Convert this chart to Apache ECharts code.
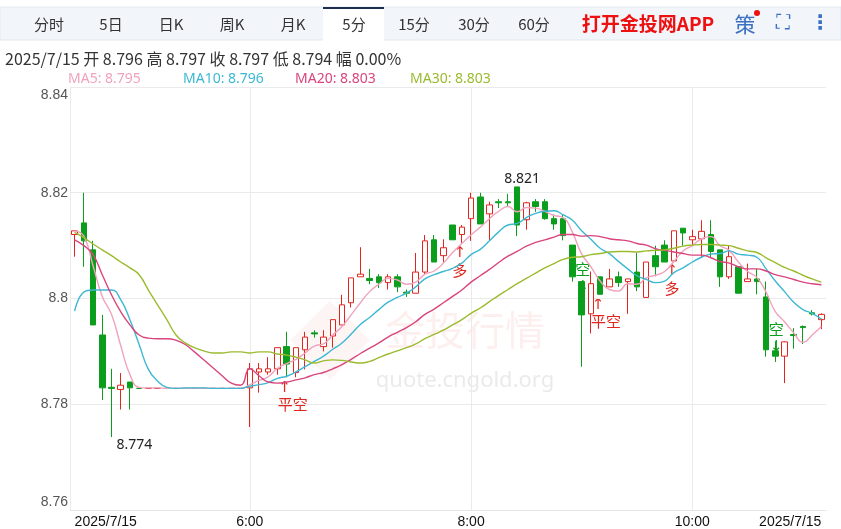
<!DOCTYPE html>
<html><head><meta charset="utf-8">
<script src="https://cdn.jsdelivr.net/npm/echarts@6/dist/echarts.min.js"></script>
<style>html,body{margin:0;padding:0;background:#fff}#c{width:841px;height:529px}</style>
</head><body><div id="c"></div>
<script>
const opens  = [8.8121,8.8143,8.8092,8.7931,8.7832,8.7828,8.7842,8.7830,8.7830,8.7830,8.7830,8.7830,8.7830,8.7830,8.7830,8.7830,8.7830,8.7830,8.7830,8.7831,8.7861,8.7861,8.7867,8.7909,8.7860,8.7903,8.7935,8.7909,8.7929,8.7950,8.7992,8.8041,8.8038,8.8041,8.8030,8.8041,8.8012,8.8010,8.8050,8.8111,8.8081,8.8139,8.8121,8.8151,8.8192,8.8160,8.8183,8.8183,8.8211,8.8149,8.8183,8.8183,8.8151,8.8151,8.8101,8.8032,8.7971,8.8041,8.8022,8.8041,8.8032,8.8050,8.8002,8.8081,8.8101,8.8071,8.8133,8.8111,8.8113,8.8121,8.8092,8.8041,8.8060,8.8032,8.8037,8.8003,8.7901,8.7891,8.7932,8.7947,8.7973,8.7960];
const closes = [8.8128,8.8109,8.7950,8.7831,8.7830,8.7836,8.7831,8.7830,8.7830,8.7830,8.7830,8.7830,8.7830,8.7830,8.7830,8.7830,8.7830,8.7830,8.7830,8.7867,8.7867,8.7867,8.7907,8.7876,8.7907,8.7927,8.7933,8.7927,8.7960,8.7988,8.8039,8.8046,8.8034,8.8030,8.8041,8.8022,8.8010,8.8050,8.8109,8.8069,8.8096,8.8111,8.8135,8.8190,8.8141,8.8177,8.8181,8.8181,8.8139,8.8181,8.8174,8.8151,8.8141,8.8119,8.8041,8.7969,8.8028,8.8008,8.8037,8.8030,8.8037,8.8022,8.8069,8.8060,8.8069,8.8128,8.8124,8.8117,8.8127,8.8089,8.8041,8.8079,8.8010,8.8037,8.8032,8.7903,8.7891,8.7918,8.7930,8.7945,8.7971,8.7970];
const lows   = [8.8079,8.8060,8.7950,8.7808,8.7738,8.7790,8.7790,8.7830,8.7830,8.7830,8.7830,8.7830,8.7830,8.7830,8.7830,8.7830,8.7830,8.7830,8.7830,8.7757,8.7822,8.7856,8.7856,8.7851,8.7851,8.7866,8.7926,8.7900,8.7907,8.7950,8.7983,8.8041,8.8027,8.8020,8.8017,8.8012,8.8003,8.8010,8.8046,8.8069,8.8069,8.8111,8.8105,8.8109,8.8141,8.8109,8.8171,8.8174,8.8118,8.8130,8.8164,8.8149,8.8130,8.8110,8.8032,8.7871,8.7934,8.8008,8.8022,8.8022,8.7971,8.8014,8.8002,8.8042,8.8069,8.8071,8.8100,8.8100,8.8077,8.8077,8.8022,8.8037,8.8010,8.8032,8.8008,8.7890,8.7880,8.7840,8.7905,8.7914,8.7968,8.7942];
const highs  = [8.8128,8.8200,8.8109,8.7969,8.7867,8.7859,8.7842,8.7830,8.7830,8.7830,8.7830,8.7830,8.7830,8.7830,8.7830,8.7830,8.7830,8.7830,8.7830,8.7878,8.7878,8.7889,8.7907,8.7937,8.7907,8.7937,8.7940,8.7940,8.7960,8.8007,8.8039,8.8097,8.8056,8.8046,8.8046,8.8046,8.8017,8.8086,8.8120,8.8120,8.8112,8.8139,8.8139,8.8200,8.8200,8.8183,8.8188,8.8198,8.8211,8.8183,8.8188,8.8188,8.8159,8.8159,8.8101,8.8032,8.8051,8.8041,8.8056,8.8051,8.8037,8.8086,8.8069,8.8100,8.8110,8.8128,8.8133,8.8130,8.8148,8.8148,8.8092,8.8100,8.8060,8.8066,8.8056,8.8032,8.7919,8.7919,8.7944,8.7949,8.7978,8.7972];
// MA values for bars whose window reaches before the first visible bar
const ma10Head = [8.7976,8.8012,8.8016,8.8016,8.8016,8.7998,8.7960,8.7913,8.7866,8.7844,8.7832,8.7830];
const ma20Head = [8.8111,8.8100,8.8083,8.8045,8.8007,8.7975,8.7950,8.7931,8.7925,8.7924,8.7924,8.7921,8.7913,8.7899,8.7884,8.7869,8.7854,8.7840,8.7836];
const ma30Head = [8.8125,8.8115,8.8103,8.8092,8.8081,8.8069,8.8058,8.8045,8.8016,8.7988,8.7960,8.7931,8.7916,8.7907,8.7901,8.7897,8.7897,8.7899,8.7899,8.7897,8.7899,8.7899,8.7895,8.7893,8.7889,8.7884,8.7878,8.7882,8.7884];
const yTicks = [8.76, 8.78, 8.80, 8.82, 8.84];
const tabs = ['分时','5日','日K','周K','月K','5分','15分','30分','60分'];
const signals = [[23,'平空','up'],[42,'多','up'],[55,'空','down'],[57,'平空','up'],[65,'多','up'],[76,'空','down']];

const cats = opens.map((_, i) => { const m = 25 + 5*i + 4*60; const h = Math.floor(m/60), mm = m%60; return h + ':' + (mm<10?'0':'') + mm; });
const kdata = opens.map((o, i) => [o, closes[i], lows[i], highs[i]]);
function ma(n, head){ return closes.map((_, i) => { if (head && i < head.length) return head[i]; const s = Math.max(0, i-n+1); let t=0; for(let j=s;j<=i;j++) t+=closes[j]; return +(t/(i-s+1)).toFixed(4); }); }
const MA = {5:ma(5),10:ma(10,ma10Head),20:ma(20,ma20Head),30:ma(30,ma30Head)};
const maColors = {5:'#f0a3bd',10:'#3db8d3',20:'#d9457d',30:'#9bbb2e'};
const last = closes.length-1;
const gridIdx = [19,43,67];

const chart = echarts.init(document.getElementById('c'));
const g = [];
g.push({type:'rect',shape:{x:0,y:7,width:841,height:33},style:{fill:'#f2f5fa',stroke:'#e3e8f0'},silent:true});
g.push({type:'rect',shape:{x:323,y:7,width:61,height:34},style:{fill:'#fff'}});
g.push({type:'rect',shape:{x:323,y:7,width:61,height:2},style:{fill:'#1d2d50'}});
const tabX=[49,111,171,232,293,354,414,474,534];
tabs.forEach((t,i)=>g.push({type:'text',x:tabX[i],y:24,style:{text:t,font:'15px "Noto Sans CJK SC"',fill:'#333',align:'center',verticalAlign:'middle'}}));
g.push({type:'text',x:648,y:24,style:{text:'打开金投网APP',font:'bold 19px "Noto Sans CJK SC"',fill:'#ee1111',align:'center',verticalAlign:'middle'}});
g.push({type:'text',x:745,y:24,style:{text:'策',font:'21px "Noto Sans CJK SC"',fill:'#3a6fc4',align:'center',verticalAlign:'middle'}});
g.push({type:'circle',shape:{cx:757,cy:13,r:3},style:{fill:'#ee1111'}});
g.push({type:'text',x:783,y:24,style:{text:'⛶',font:'20px DejaVu Sans',fill:'#3a6fc4',align:'center',verticalAlign:'middle'}});
g.push({type:'text',x:820,y:24,style:{text:'⋮',font:'bold 20px DejaVu Sans',fill:'#3a6fc4',align:'center',verticalAlign:'middle'}});
g.push({type:'text',x:5,y:59,style:{text:'2025/7/15 开 '+opens[last].toFixed(3)+' 高 '+highs[last].toFixed(3)+' 收 '+closes[last].toFixed(3)+' 低 '+lows[last].toFixed(3)+' 幅 0.00%',font:'16px "Noto Sans CJK SC"',fill:'#333',verticalAlign:'middle'}});
[[5,68],[10,183],[20,295],[30,410]].forEach(([n,x])=>g.push({type:'text',x:x,y:79,style:{text:'MA'+n+': '+MA[n][last].toFixed(3),font:'14px "Noto Sans"',fill:maColors[n],verticalAlign:'middle'}}));
g.push({type:'text',x:465,y:330,style:{text:'金投行情',font:'40px "Noto Sans CJK SC"',fill:'rgba(230,120,110,0.12)',align:'center',verticalAlign:'middle'}});
g.push({type:'text',x:465,y:381,style:{text:'quote.cngold.org',font:'22px "Noto Sans"',fill:'rgba(160,160,160,0.22)',align:'center',verticalAlign:'middle'}});
g.push({type:'rect',x:330,y:340,rotation:Math.PI/4,shape:{x:-28,y:-28,width:56,height:56},style:{fill:'rgba(230,120,110,0.08)'}});

const series = [{type:'candlestick',data:kdata,barWidth:6,itemStyle:{color:'#ffffff',color0:'#0b9e1c',borderColor:'#e0261f',borderColor0:'#0b9e1c',borderWidth:1},
  markLine:{silent:true,symbol:'none',label:{show:false},lineStyle:{color:'#eaeaea',type:'solid',width:1},z:0,
    data:gridIdx.map(i=>({xAxis:cats[i]}))}}];
[5,10,20,30].forEach(n=>series.push({type:'line',data:MA[n],symbol:'none',smooth:true,lineStyle:{width:1.4,color:maColors[n]},z:3}));

chart.setOption({
  animation:false,
  grid:{left:70,right:15,top:87,bottom:19},
  xAxis:{type:'category',data:cats,boundaryGap:true,
    axisLine:{show:true,lineStyle:{color:'#e6e6e6'}},axisTick:{show:false},
    axisLabel:{color:'#111',fontSize:14,margin:5,
      interval:(i)=>i===0||i===last||gridIdx.includes(i),
      formatter:(v,i)=>(i===0||i===last)?'2025/7/15':v, alignMinLabel:'left',alignMaxLabel:'right'},
    splitLine:{show:false}},
  yAxis:{type:'value',min:yTicks[0],max:yTicks[yTicks.length-1],interval:0.02,
    axisLine:{show:true,lineStyle:{color:'#eaeaea'}},axisTick:{show:false},
    axisLabel:{color:'#555',fontSize:14,margin:2,
      formatter:v=>{const s=(+v.toFixed(2)).toString(); if(Math.abs(v-yTicks[0])<1e-9) return '{b|'+s+'}'; if(Math.abs(v-yTicks[yTicks.length-1])<1e-9) return '{t|'+s+'}'; return s;},
      rich:{b:{fontSize:14,color:'#555',padding:[0,0,16,0]},t:{fontSize:14,color:'#555',padding:[16,0,0,0]}}},
    splitLine:{lineStyle:{color:'#eaeaea'}}},
  series:series,
  graphic:g
});
const extra=[];
let hi=0,lo=0; highs.forEach((h,i)=>{if(h>highs[hi])hi=i;}); lows.forEach((l,i)=>{if(l<lows[lo])lo=i;});
const ph=chart.convertToPixel({gridIndex:0},[hi,highs[hi]]);
extra.push({type:'text',x:ph[0]+5,y:ph[1]-8,style:{text:highs[hi].toFixed(3),font:'14px "Noto Sans"',fill:'#222',align:'center',verticalAlign:'middle'}});
const pl=chart.convertToPixel({gridIndex:0},[lo,lows[lo]]);
extra.push({type:'text',x:pl[0]+23,y:pl[1]+8,style:{text:lows[lo].toFixed(3),font:'14px "Noto Sans"',fill:'#222',align:'center',verticalAlign:'middle'}});
signals.forEach(([i,t,d])=>{
  if(d==='up'){
    const p=chart.convertToPixel({gridIndex:0},[i,lows[i]]);
    extra.push({type:'text',x:p[0]-2,y:p[1]+3,style:{text:'↑',font:'15px "DejaVu Sans"',fill:'#e0261f',align:'center',verticalAlign:'top'}});
    extra.push({type:'text',x:p[0]+(t.length>1?6:-2),y:p[1]+20,style:{text:t,font:'15px "Noto Sans CJK SC"',fill:'#e0261f',align:'center',verticalAlign:'top'}});
  } else {
    const p=chart.convertToPixel({gridIndex:0},[i,highs[i]]);
    extra.push({type:'text',x:p[0]+1,y:p[1]-12,style:{text:t,font:'15px "Noto Sans CJK SC"',fill:'#0b9e1c',align:'center',verticalAlign:'middle'}});
    extra.push({type:'text',x:p[0]+1,y:p[1]+6,style:{text:'↓',font:'15px "DejaVu Sans"',fill:'#0b9e1c',align:'center',verticalAlign:'middle'}});
  }
});
chart.setOption({graphic:g.concat(extra)});
</script></body></html>
